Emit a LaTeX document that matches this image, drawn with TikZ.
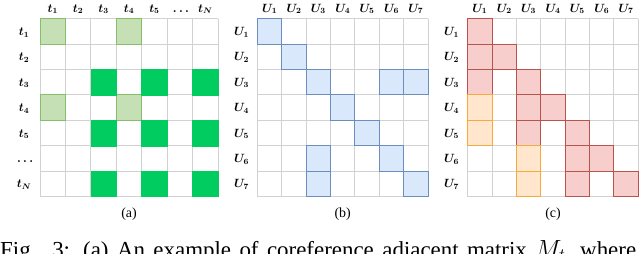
\documentclass[tikz,border=0pt]{standalone}
\usepackage{fontspec}
\setmainfont{Liberation Serif}
\definecolor{gridgray}{RGB}{210,210,210}
\definecolor{lgfill}{RGB}{197,224,180}
\definecolor{lgborder}{RGB}{135,190,105}
\definecolor{dgfill}{RGB}{0,204,96}
\definecolor{blfill}{RGB}{218,232,252}
\definecolor{blborder}{RGB}{108,142,191}
\definecolor{rdfill}{RGB}{248,206,204}
\definecolor{rdborder}{RGB}{184,84,80}
\definecolor{ogfill}{RGB}{255,230,204}
\definecolor{ogborder}{RGB}{245,170,60}
\tikzset{
  gridline/.style={draw=gridgray, line width=0.9bp},
  lgcell/.style={fill=lgfill, draw=lgborder, line width=0.9bp},
  dgcell/.style={fill=dgfill, draw=dgfill, line width=0.5bp},
  blcell/.style={fill=blfill, draw=blborder, line width=0.9bp},
  rdcell/.style={fill=rdfill, draw=rdborder, line width=0.9bp},
  ogcell/.style={fill=ogfill, draw=ogborder, line width=0.9bp},
  lab/.style={inner sep=0pt, anchor=base, font=\fontsize{11.5}{13}\selectfont\boldmath},
  subcap/.style={inner sep=0pt, font=\fontsize{14}{16}\selectfont},
}
% #1 = x0, #2 = cell width
\newcommand{\mgridlines}[2]{%
  \foreach \k in {0,...,7} {
    \draw[gridline] ({#1+\k*#2},18.5) -- ({#1+\k*#2},{18.5+7*25.46});
    \draw[gridline] (#1,{18.5+\k*25.46}) -- ({#1+7*#2},{18.5+\k*25.46});
  }}
% #1 = x0, #2 = cell width, #3 = style, #4 = list row/col
\newcommand{\mcells}[4]{%
  \foreach \r/\c in {#4} {
    \path[#3] ({#1+(\c-1)*#2},{18.5+(\r-1)*25.46}) rectangle ++(#2,25.46);
  }}
\begin{document}
\begin{tikzpicture}[x=1bp,y=-1bp]
\useasboundingbox (0,0) rectangle (640,253);
\fill[white] (0,0) rectangle (640,253);
\clip (0,0) rectangle (640,253);

% ---------- matrix (a) ----------
\mgridlines{40}{25.43}
\mcells{40}{25.43}{lgcell}{1/1,1/4,4/1,4/4}
\mcells{40}{25.43}{dgcell}{3/3,3/5,3/7,5/3,5/5,5/7,7/3,7/5,7/7}
\foreach \i/\t in {1/t_1,2/t_2,3/t_3,4/t_4,5/t_5,6/\dots,7/t_N} {
  \node[lab] (ac\i) at ({40+(\i-0.5)*25.43},12) {$\vphantom{t_N}\t$};
  \node[lab] (ar\i) at (24,{18.5+(\i-0.5)*25.46+4}) {$\vphantom{t_N}\t$};
}
\node[subcap] (capa) at (129,213.7) {(a)};

% ---------- matrix (b) ----------
\mgridlines{257.5}{24.36}
\mcells{257.5}{24.36}{blcell}{1/1,2/2,3/3,3/6,3/7,4/4,5/5,6/3,6/6,7/3,7/7}
\foreach \i in {1,...,7} {
  \node[lab] (bc\i) at ({257.5+(\i-0.5)*24.36},12) {$U_{\i}$};
  \node[lab] (br\i) at (241.5,{18.5+(\i-0.5)*25.46+4}) {$U_{\i}$};
}
\node[subcap] (capb) at (342.7,213.7) {(b)};

% ---------- matrix (c) ----------
\mgridlines{467.7}{24.37}
\mcells{467.7}{24.37}{rdcell}{1/1,2/1,2/2,3/1,3/3,4/3,4/4,5/3,5/5,6/5,6/6,7/5,7/7}
\mcells{467.7}{24.37}{ogcell}{4/1,5/1,6/3,7/3}
\foreach \i in {1,...,7} {
  \node[lab] (cc\i) at ({467.7+(\i-0.5)*24.37},12) {$U_{\i}$};
  \node[lab] (cr\i) at (451.5,{18.5+(\i-0.5)*25.46+4}) {$U_{\i}$};
}
\node[subcap] (capc) at (553,213.7) {(c)};

% ---------- figure caption (cut off at bottom, as in the reference) ----------
\node[inner sep=0pt, anchor=base west, font=\fontsize{23}{27}\selectfont] (figcap) at (0,257)
  {\makebox[636bp][s]{Fig. 3: (a) An example of coreference adjacent matrix $M_t$, where}};
\end{tikzpicture}
\end{document}
